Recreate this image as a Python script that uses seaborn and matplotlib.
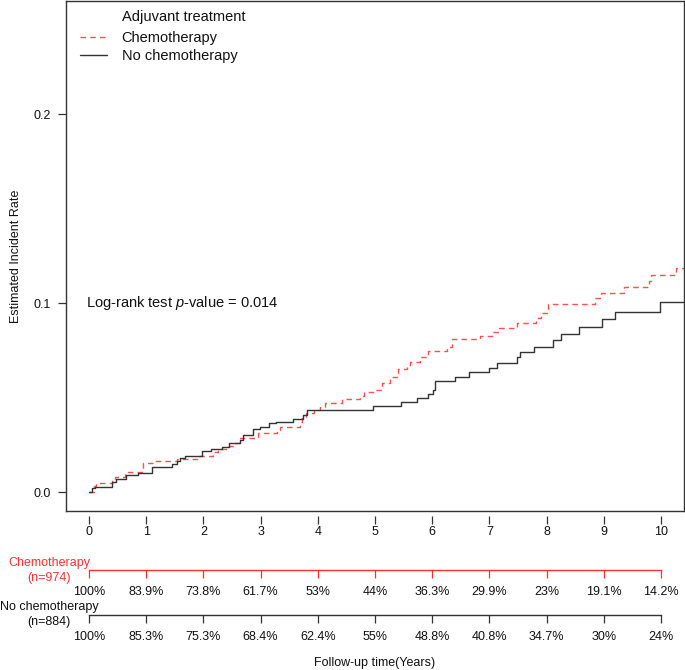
import numpy as np
import pandas as pd
import matplotlib
matplotlib.use("Agg")
import matplotlib.pyplot as plt
import seaborn as sns

# ---------------- data ----------------
groups = ["Chemotherapy", "No chemotherapy"]
group_n = [974, 884]
legend_title = "Adjuvant treatment"

chemo_time = [0, 0.08, 0.13, 0.40, 0.45, 0.63, 0.95, 1.15, 1.53, 1.90, 2.17, 2.26, 2.44,
              2.55, 2.64, 2.96, 3.29, 3.34, 3.69, 3.72, 3.80, 3.93, 4.04, 4.12, 4.42, 4.74,
              4.81, 5.00, 5.12, 5.26, 5.41, 5.56, 5.61, 5.78, 5.92, 6.25, 6.34, 6.83, 7.07,
              7.17, 7.48, 7.81, 7.91, 8.03, 8.85, 8.95, 9.36, 9.79, 9.82, 10.27, 10.40]
chemo_rate = [0, 0.0032, 0.0046, 0.0063, 0.0080, 0.0104, 0.0153, 0.0163, 0.0172, 0.0190,
              0.0213, 0.0226, 0.0243, 0.0258, 0.0286, 0.0310, 0.0328, 0.0346, 0.0370, 0.0390,
              0.0416, 0.0434, 0.0450, 0.0470, 0.0490, 0.0508, 0.0527, 0.0540, 0.0576, 0.0610,
              0.0652, 0.0670, 0.0690, 0.0713, 0.0748, 0.0769, 0.0808, 0.0827, 0.0848, 0.0870,
              0.0892, 0.0919, 0.0945, 0.0993, 0.1025, 0.1055, 0.1083, 0.1116, 0.1148, 0.1183,
              0.1183]

nochemo_time = [0, 0.05, 0.10, 0.40, 0.47, 0.64, 0.86, 1.11, 1.45, 1.53, 1.59, 1.68, 1.97,
                2.14, 2.32, 2.45, 2.64, 2.70, 2.87, 2.99, 3.15, 3.27, 3.56, 3.74, 3.81, 4.97,
                5.45, 5.74, 5.93, 6.02, 6.05, 6.40, 6.65, 7.00, 7.13, 7.49, 7.53, 7.78, 8.12,
                8.25, 8.57, 8.97, 9.20, 9.98, 10.40]
nochemo_rate = [0, 0.0022, 0.0028, 0.0052, 0.0068, 0.0090, 0.0102, 0.0134, 0.0150, 0.0162,
                0.0178, 0.0191, 0.0216, 0.0228, 0.0240, 0.0258, 0.0276, 0.0301, 0.0332, 0.0346,
                0.0363, 0.0372, 0.0388, 0.0405, 0.0436, 0.0455, 0.0476, 0.0495, 0.0518, 0.0540,
                0.0587, 0.0610, 0.0633, 0.0658, 0.0684, 0.0713, 0.0742, 0.0769, 0.0805, 0.0838,
                0.0875, 0.0914, 0.0954, 0.1004, 0.1004]

risk_times = list(range(11))
chemo_risk = ["100%", "83.9%", "73.8%", "61.7%", "53%", "44%", "36.3%", "29.9%", "23%",
              "19.1%", "14.2%"]
nochemo_risk = ["100%", "85.3%", "75.3%", "68.4%", "62.4%", "55%", "48.8%", "40.8%",
                "34.7%", "30%", "24%"]

y_ticks = [0.0, 0.1, 0.2]
y_tick_labels = ["0.0", "0.1", "0.2"]
pvalue_text = "0.014"

# ---------------- style ----------------
sns.set_theme(style="white")
plt.rcParams["font.family"] = ["Liberation Sans", "DejaVu Sans"]
plt.rcParams["mathtext.fontset"] = "custom"
plt.rcParams["mathtext.rm"] = "Liberation Sans"
plt.rcParams["mathtext.it"] = "Liberation Sans:italic"

RED = "#ff3030"
DARK = "#333333"
TXT = "#111111"

df = pd.concat([
    pd.DataFrame({"group": groups[0], "time": chemo_time, "rate": chemo_rate}),
    pd.DataFrame({"group": groups[1], "time": nochemo_time, "rate": nochemo_rate}),
], ignore_index=True)

W, H = 685, 670
fig = plt.figure(figsize=(W / 100, H / 100), dpi=100)
ax_l, ax_r, ax_t, ax_b = 66, 684, 1, 511
ax = fig.add_axes([ax_l / W, 1 - ax_b / H, (ax_r - ax_l) / W, (ax_b - ax_t) / H])
ax_h = ax_b - ax_t

sns.lineplot(data=df[df["group"] == groups[0]], x="time", y="rate", ax=ax,
             estimator=None, sort=False, drawstyle="steps-post", color=RED, alpha=0.85,
             linewidth=1.0, linestyle=(0, (4, 3)), label=groups[0])
sns.lineplot(data=df[df["group"] == groups[1]], x="time", y="rate", ax=ax,
             estimator=None, sort=False, drawstyle="steps-post", color=DARK,
             linewidth=1.0, label=groups[1])

ax.set_xlim(-0.402, 10.402)
ax.set_ylim(-0.01005, 0.2598)
for s in ax.spines.values():
    s.set_visible(True)
    s.set_color(DARK)
    s.set_linewidth(1.0)

ax.set_xlabel("")
ax.tick_params(axis="x", bottom=False, labelbottom=False)
ax.set_yticks(y_ticks, labels=y_tick_labels)
ax.tick_params(axis="y", left=True, length=5.8, width=0.9, color=DARK, pad=5,
               labelsize=9, labelcolor=TXT)
ax.set_ylabel("Estimated Incident Rate", fontsize=9, color=TXT)
ax.yaxis.set_label_coords((22 - ax_l) / (ax_r - ax_l), 0.5)

# legend
leg = ax.legend(loc="upper left", bbox_to_anchor=((80 - ax_l) / (ax_r - ax_l), 1 - 30 / ax_h),
                frameon=False, fontsize=10.5, handlelength=1.85, handletextpad=1.0,
                labelspacing=0.25, borderpad=0, borderaxespad=0)
for t in leg.get_texts():
    t.set_color(TXT)
ax.text((122 - ax_l) / (ax_r - ax_l), 1 - 16 / ax_h, legend_title, transform=ax.transAxes,
        fontsize=10.5, color=TXT, ha="left", va="center")

# p-value text
ax.text((86 - ax_l) / (ax_r - ax_l), 0.1,
        r"Log-rank test $\mathit{p}$-value = " + pvalue_text,
        transform=ax.get_yaxis_transform(), fontsize=10.5, color=TXT, ha="left", va="center")

# x axis (offset below the box)
secx = ax.secondary_xaxis(-5 / ax_h)
secx.set_xticks(risk_times)
secx.spines["bottom"].set_visible(False)
secx.tick_params(axis="x", bottom=True, length=6, width=0.9, color=DARK, pad=1.5,
                 labelsize=9, labelcolor=TXT)

# risk table rows
for loc_px, labels, col in [(570, chemo_risk, RED), (615, nochemo_risk, DARK)]:
    sx = ax.secondary_xaxis(-(loc_px - ax_b) / ax_h)
    sx.set_xticks(risk_times, labels=labels)
    sp = sx.spines["bottom"]
    sp.set_visible(True)
    sp.set_color(col)
    sp.set_linewidth(1.0)
    sp.set_bounds(risk_times[0], risk_times[-1])
    sx.tick_params(axis="x", bottom=True, length=5.8, width=0.9, color=col, pad=5.8,
                   labelsize=9, labelcolor=TXT)

# group labels on the left of risk table
cx = 49 / W
fig.text(cx, 1 - 563 / H, groups[0], color=RED, fontsize=9, ha="center", va="center")
fig.text(cx, 1 - 578 / H, f"(n={group_n[0]})", color=RED, fontsize=9, ha="center", va="center")
fig.text(cx, 1 - 607 / H, groups[1], color=TXT, fontsize=9, ha="center", va="center")
fig.text(cx, 1 - 622 / H, f"(n={group_n[1]})", color=TXT, fontsize=9, ha="center", va="center")

fig.text((ax_l + ax_r) / 2 / W, 1 - 663 / H, "Follow-up time(Years)", fontsize=9,
         color=TXT, ha="center", va="center")

fig.savefig("out.png", dpi=100)
